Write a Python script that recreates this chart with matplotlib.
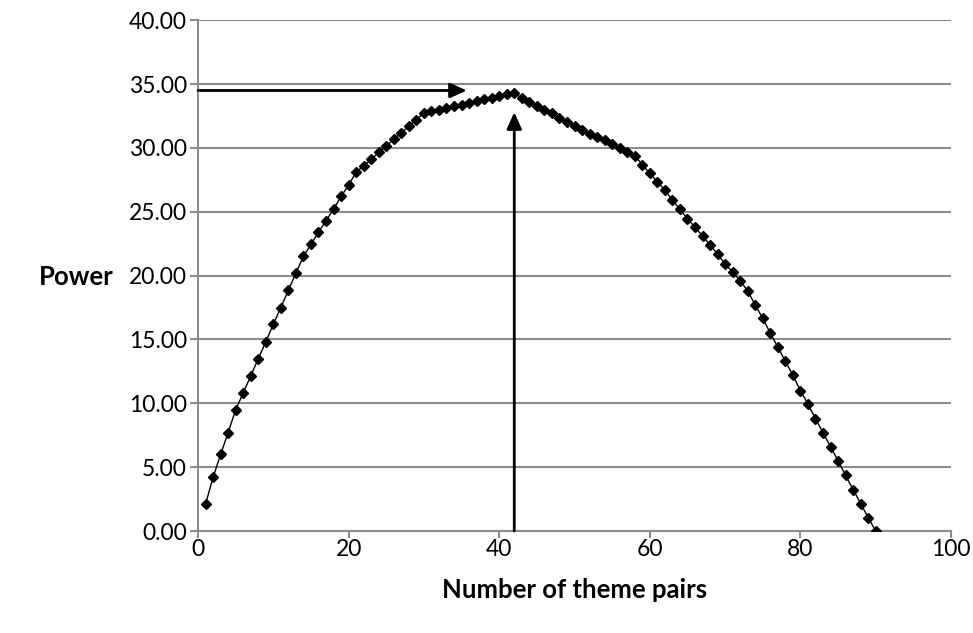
import numpy as np
import matplotlib
matplotlib.use("Agg")
import matplotlib.pyplot as plt

plt.rcParams['font.family'] = ['Lato', 'DejaVu Sans']

pairs = list(range(1, 91))
power = [2.1, 4.2, 6.0, 7.7, 9.5, 10.8, 12.15, 13.5, 14.8, 16.2,
         17.5, 18.85, 20.2, 21.5, 22.45, 23.4, 24.3, 25.2, 26.2, 27.1,
         28.1, 28.6, 29.1, 29.65, 30.15, 30.7, 31.2, 31.7, 32.2, 32.75,
         32.9, 33.0, 33.15, 33.3, 33.4, 33.55, 33.7, 33.8, 33.95, 34.1,
         34.2, 34.3, 33.9, 33.6, 33.3, 33.0, 32.7, 32.35, 32.0, 31.7,
         31.4, 31.1, 30.85, 30.6, 30.3, 30.0, 29.7, 29.4, 28.7, 28.0,
         27.35, 26.7, 25.9, 25.2, 24.45, 23.8, 23.1, 22.4, 21.7, 20.9,
         20.3, 19.6, 18.8, 17.7, 16.65, 15.5, 14.4, 13.3, 12.2, 11.0,
         9.95, 8.8, 7.7, 6.6, 5.5, 4.35, 3.25, 2.15, 1.05, 0.0]

x_ticks = [0, 20, 40, 60, 80, 100]
y_ticks = [0, 5, 10, 15, 20, 25, 30, 35, 40]

# arrows marking the optimum
h_arrow = (0, 35.7, 34.5)   # x start, x end, y
v_arrow = (42, 0, 32.8)     # x, y start, y end

grid_col = '#8c8c8c'

fig = plt.figure(figsize=(9.73, 6.33), dpi=100)
ax = fig.add_axes([0.2035, 0.1611, 0.7739, 0.8069])

ax.plot(pairs, power, color='black', linewidth=1.0, marker='D',
        markersize=5.5, markerfacecolor='black', markeredgecolor='black', zorder=3)

ax.set_xlim(0, 100)
ax.set_ylim(0, 40)
ax.set_xticks(x_ticks)
ax.set_yticks(y_ticks)
ax.set_xticklabels([str(v) for v in x_ticks], fontsize=16.5)
ax.set_yticklabels(['%.2f' % v for v in y_ticks], fontsize=16.5)
ax.yaxis.grid(True, color=grid_col, linewidth=1.5)
ax.set_axisbelow(True)

for side in ['top', 'right']:
    ax.spines[side].set_visible(False)
for side in ['left', 'bottom']:
    ax.spines[side].set_color(grid_col)
    ax.spines[side].set_linewidth(1.5)
ax.tick_params(axis='both', direction='out', width=1.5, color=grid_col)
ax.tick_params(axis='x', length=5, pad=1)
ax.tick_params(axis='y', length=6, pad=2)

ax.annotate('', xy=(h_arrow[1], h_arrow[2]), xytext=(h_arrow[0], h_arrow[2]),
            arrowprops=dict(arrowstyle='-|>,head_length=1.0,head_width=0.45',
                            color='black', linewidth=2, shrinkA=0, shrinkB=0),
            zorder=4)
ax.annotate('', xy=(v_arrow[0], v_arrow[2]), xytext=(v_arrow[0], v_arrow[1]),
            arrowprops=dict(arrowstyle='-|>,head_length=1.0,head_width=0.45',
                            color='black', linewidth=2, shrinkA=0, shrinkB=0),
            zorder=4)

fig.text(0.078, 0.562, 'Power', fontsize=18.5, fontweight='bold',
         ha='center', va='center')
fig.text(0.59, 0.068, 'Number of theme pairs', fontsize=18.5, fontweight='bold',
         ha='center', va='center')

fig.savefig('out.png', dpi=100)
